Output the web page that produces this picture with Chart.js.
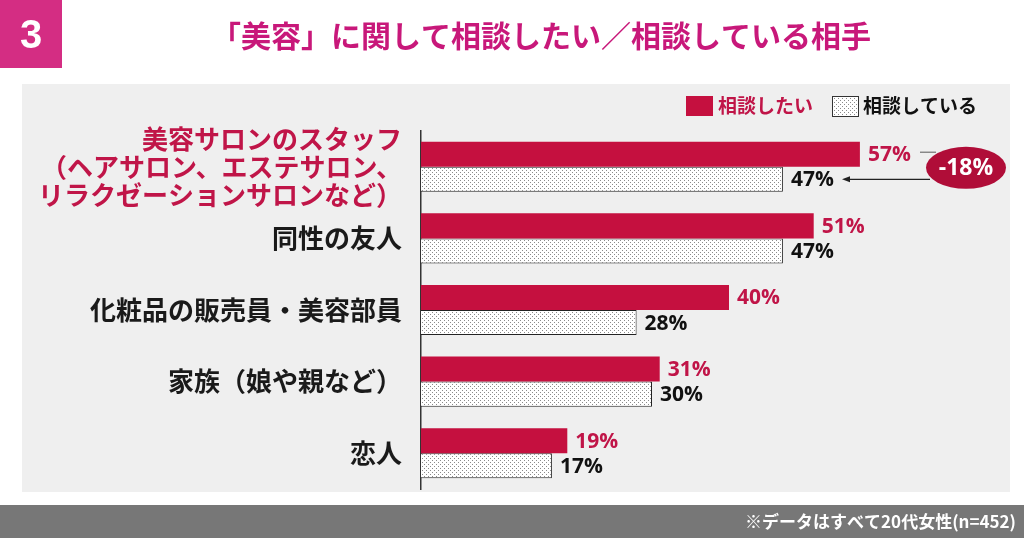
<!DOCTYPE html>
<html>
<head>
<meta charset="utf-8">
<script src="https://cdn.jsdelivr.net/npm/chart.js@4"></script>
<style>
  html, body { margin: 0; padding: 0; background: #fff; }
  #wrap { width: 1024px; height: 538px; position: relative; }
</style>
</head>
<body>
<div id="wrap"><canvas id="myChart" width="1024" height="538"></canvas></div>
<script>
// データ
const categories = [
    ['美容サロンのスタッフ', '（ヘアサロン、エステサロン、', 'リラクゼーションサロンなど）'],
    '同性の友人',
    '化粧品の販売員・美容部員',
    '家族（娘や親など）',
    '恋人'
];
const wantValues = [57, 51, 40, 31, 19];   // 相談したい
const doingValues = [47, 47, 28, 30, 17];  // 相談している
const seriesNames = ['相談したい', '相談している'];
const titleText = '「美容」に関して相談したい／相談している相手';
const noteText = '※データはすべて20代女性(n=452)';

const RED = '#c5103f';
const DARK_RED = '#b00d38';
const LABEL_RED = '#c01548';
const JP = '"Noto Sans CJK JP", "Noto Sans", sans-serif';
const NUM = '"Open Sans", "Noto Sans", sans-serif';

// ドット柄のパターン
function makeDots() {
    const c = document.createElement('canvas');
    c.width = 4; c.height = 4;
    const g = c.getContext('2d');
    g.fillStyle = '#ffffff';
    g.fillRect(0, 0, 4, 4);
    g.fillStyle = '#8a8a8a';
    g.fillRect(0, 0, 1, 1);
    g.fillRect(2, 2, 1, 1);
    return g.createPattern(c, 'repeat');
}
const ctx = document.querySelector('#myChart').getContext('2d');
const dots = makeDots();

// 背景・タイトル・フッター・凡例
const backdrop = {
    id: 'backdrop',
    beforeDraw(chart) {
        const c = chart.ctx;
        c.save();
        c.fillStyle = '#ffffff';
        c.fillRect(0, 0, 1024, 538);
        c.fillStyle = '#efefef';
        c.fillRect(22, 84, 988, 408);
        // 番号ボックス
        c.fillStyle = '#d42d83';
        c.fillRect(0, 0, 62, 68);
        c.fillStyle = '#ffffff';
        c.font = 'bold 40px "Liberation Sans Narrow", "Liberation Sans", Arial, sans-serif';
        c.textAlign = 'center';
        c.textBaseline = 'middle';
        c.fillText('3', 31, 37);
        // タイトル
        c.fillStyle = '#c8187a';
        c.font = 'bold 30px ' + JP;
        c.fillText(titleText, 541, 36);
        // フッター
        c.fillStyle = '#777777';
        c.fillRect(0, 505, 1024, 33);
        c.fillStyle = '#ffffff';
        c.font = 'bold 17px ' + JP;
        c.textAlign = 'right';
        c.fillText(noteText, 1016, 522);
        // 凡例
        c.textAlign = 'left';
        c.font = 'bold 19px ' + JP;
        c.fillStyle = RED;
        c.fillRect(686, 96, 27, 20);
        c.fillStyle = LABEL_RED;
        c.fillText(seriesNames[0], 718, 106);
        c.fillStyle = dots;
        c.fillRect(832, 96, 26, 20);
        c.strokeStyle = '#333';
        c.lineWidth = 1;
        c.strokeRect(832.5, 96.5, 26, 20);
        c.fillStyle = '#111';
        c.fillText(seriesNames[1], 863, 106);
        c.restore();
    }
};

// 数値ラベルと差分の注記
const valueLabels = {
    id: 'valueLabels',
    afterDatasetsDraw(chart) {
        const c = chart.ctx;
        c.save();
        c.font = 'bold 21px ' + NUM;
        c.textAlign = 'left';
        c.textBaseline = 'middle';
        chart.data.datasets.forEach((ds, i) => {
            chart.getDatasetMeta(i).data.forEach((bar, j) => {
                c.fillStyle = i === 0 ? LABEL_RED : '#111';
                c.fillText(ds.data[j] + '%', bar.x + 8, bar.y + 1);
            });
        });
        // 最初の項目の差分
        const a = chart.getDatasetMeta(0).data[0];
        const b = chart.getDatasetMeta(1).data[0];
        const diff = Math.round((doingValues[0] - wantValues[0]) / wantValues[0] * 100);
        const cx = 966, cy = (a.y + b.y) / 2 + 1;
        c.strokeStyle = '#888';
        c.lineWidth = 1.5;
        c.beginPath();
        c.moveTo(920, a.y - 2);
        c.lineTo(936, a.y - 2);
        c.stroke();
        c.strokeStyle = '#222';
        c.lineWidth = 1.2;
        c.beginPath();
        c.moveTo(930, b.y);
        c.lineTo(847, b.y);
        c.stroke();
        c.fillStyle = '#222';
        c.beginPath();
        c.moveTo(842, b.y);
        c.lineTo(850, b.y - 3);
        c.lineTo(850, b.y + 3);
        c.closePath();
        c.fill();
        c.fillStyle = DARK_RED;
        c.beginPath();
        c.ellipse(cx, cy, 40, 21, 0, 0, Math.PI * 2);
        c.fill();
        c.fillStyle = '#ffffff';
        c.textAlign = 'center';
        c.font = 'bold 23px ' + NUM;
        c.fillText(diff + '%', cx, cy + 1);
        c.restore();
    }
};

const chart = new Chart(ctx, {
    type: 'bar',
    data: {
        labels: categories,
        datasets: [{
            label: seriesNames[0],
            data: wantValues,
            backgroundColor: RED,
            borderWidth: 0
        }, {
            label: seriesNames[1],
            data: doingValues,
            backgroundColor: dots,
            borderColor: '#222',
            borderWidth: 1
        }]
    },
    options: {
        indexAxis: 'y',
        responsive: false,
        animation: false,
        layout: { padding: { top: 131, bottom: 49, left: 0, right: 64 } },
        datasets: { bar: { categoryPercentage: 0.7, barPercentage: 1.0 } },
        scales: {
            x: { display: false, min: 0, max: 70 },
            y: {
                grid: { display: false },
                border: { display: true, color: '#333', width: 1.5 },
                afterFit(scale) {
                    scale.width = 421;
                    // 複数行ラベルによる上下の余白を無効にする
                    scale.paddingTop = 0;
                    scale.paddingBottom = 0;
                },
                ticks: {
                    autoSkip: false,
                    padding: 11,
                    color: (c) => c.index === 0 ? LABEL_RED : '#1a1a1a',
                    font: { family: JP, size: 26, weight: 'bold', lineHeight: '28px' }
                }
            }
        },
        plugins: {
            legend: { display: false },
            tooltip: { enabled: false }
        }
    },
    plugins: [backdrop, valueLabels]
});
</script>
</body>
</html>
